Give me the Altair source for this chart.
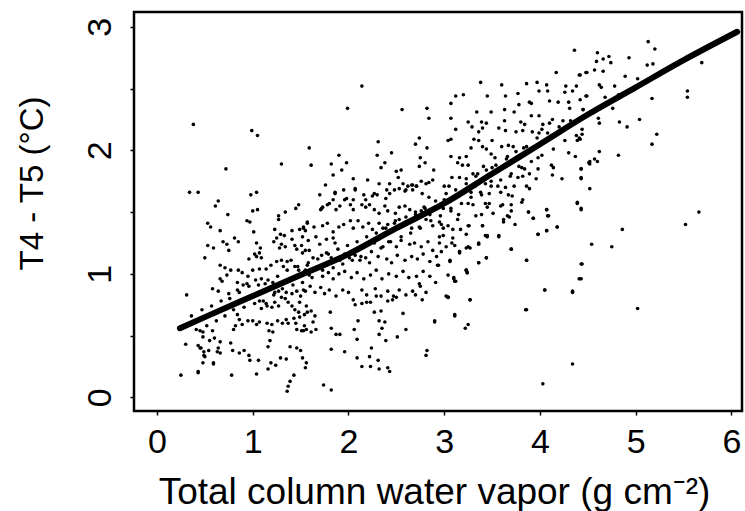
import altair as alt
import pandas as pd

# fitted curve
curve_x = [0.24, 0.5, 1.0, 1.5, 2.0, 2.5, 3.0, 3.5, 4.0, 4.5, 5.0, 5.5, 6.06]
curve_y = [0.56, 0.65, 0.82, 0.99, 1.16, 1.37, 1.57, 1.81, 2.05, 2.29, 2.51, 2.73, 2.96]

# scatter points (x = water vapor, y = T4-T5)
pts_right = [(5.13,2.88),(5.20,2.82),(4.60,2.79),(4.66,2.74),(4.72,2.76),(4.74,2.71),(4.59,2.72),(4.93,2.75),(5.12,2.69),(5.18,2.70),(5.69,2.71),(4.42,2.61),(4.49,2.63),(4.57,2.65),(4.66,2.64),(4.89,2.60),(5.02,2.58),(4.62,2.53),(4.64,2.51),(4.78,2.52),(4.48,2.44),(4.42,2.41),(4.68,2.43),(4.82,2.45),(5.17,2.42),(5.54,2.48),(5.54,2.43),(4.45,2.33),(4.76,2.34),(4.61,2.26),(4.62,2.22),(4.83,2.23),(4.91,2.19),(5.04,2.25),(5.22,2.13),(5.17,2.05),(4.44,2.17),(4.44,2.13),(4.42,2.09),(4.62,1.99),(4.57,1.93),(4.60,1.91),(4.52,1.91),(4.52,1.89),(4.82,1.96),(4.43,1.85),(4.43,1.77),(4.52,1.69),(4.43,1.52),(4.86,1.36),(4.54,1.24),(4.75,1.22),(4.43,1.08),(5.66,1.50),(5.52,1.40)]
pts_lowright = [(4.41,0.96),(4.34,0.85),(5.02,0.72),(4.05,0.87),(3.85,0.71),(4.34,0.27),(4.03,0.11),(3.86,1.11),(3.70,1.20),(4.18,1.38),(4.07,1.35),(3.98,1.32),(4.07,1.52),(4.09,1.47),(4.39,1.57),(3.93,1.45),(3.88,1.50),(3.81,1.58),(3.57,1.31),(3.44,1.13),(3.36,1.09),(3.27,0.79),(3.22,0.56),(3.25,0.59),(3.11,0.66),(3.04,0.81),(2.90,0.61),(3.10,0.96),(3.11,0.94),(3.23,1.03),(3.24,1.01),(2.94,1.07),(3.06,1.10),(3.36,1.24),(3.40,1.39),(3.45,1.31),(3.16,1.18),(3.16,1.17),(3.25,1.22),(3.26,1.39),(3.08,1.25),(3.62,1.42),(3.66,1.47),(3.74,1.40),(3.70,1.51),(3.59,1.55),(3.47,1.57)]
pts_mid = [(4.36,2.81),(4.17,2.63),(4.41,2.61),(4.48,2.63),(3.38,2.55),(3.60,2.53),(3.86,2.54),(3.97,2.55),(4.07,2.53),(4.08,2.48),(3.99,2.48),(4.27,2.52),(4.38,2.52),(4.26,2.47),(4.34,2.48),(4.49,2.44),(3.12,2.44),(3.20,2.45),(3.45,2.44),(3.64,2.44),(3.77,2.46),(3.89,2.39),(3.91,2.38),(3.78,2.37),(4.10,2.40),(4.19,2.39),(4.30,2.39),(3.07,2.38),(4.31,2.34),(4.45,2.33),(3.34,2.31),(3.49,2.31),(3.63,2.33),(3.73,2.31),(3.91,2.28),(3.99,2.28),(4.13,2.25),(4.10,2.22),(4.24,2.24),(3.07,2.26),(3.25,2.23),(3.29,2.19),(3.39,2.23),(3.44,2.22),(3.63,2.24),(3.80,2.23),(3.84,2.21),(4.03,2.21),(3.12,2.17),(3.40,2.18),(3.36,2.15),(3.57,2.18),(3.64,2.16),(3.75,2.15),(3.82,2.16),(3.92,2.15),(3.99,2.14),(4.02,2.17),(3.04,2.08),(3.07,2.09),(3.31,2.09),(3.36,2.08),(3.50,2.08),(3.60,2.03),(3.67,2.04),(3.72,2.03),(3.83,2.02),(4.39,2.08),(4.41,2.10),(3.28,2.02),(3.40,2.03),(3.44,2.01),(3.07,1.95),(3.16,1.94),(3.23,1.95),(3.49,1.97),(3.53,1.94),(3.66,1.95),(3.98,1.94),(4.30,1.98),(4.37,1.95),(3.14,1.90),(3.19,1.88),(3.25,1.88),(3.41,1.87),(3.50,1.86),(3.78,1.87),(3.84,1.85),(3.98,1.85),(4.12,1.88),(4.14,1.86),(4.51,1.90),(3.08,1.78),(3.16,1.78),(3.23,1.77),(3.30,1.81),(3.35,1.81),(3.69,1.79),(3.77,1.78),(3.82,1.79),(3.89,1.81),(3.96,1.77),(4.13,1.80),(4.23,1.77),(4.43,1.85),(4.43,1.78),(3.00,1.71),(3.05,1.71),(3.32,1.71),(3.43,1.73),(3.49,1.75),(3.56,1.71),(3.64,1.70),(3.73,1.71),(3.86,1.71),(3.89,1.69),(3.28,1.66),(3.39,1.64),(3.47,1.65),(3.59,1.66),(3.67,1.64),(3.71,1.63),(3.82,1.60),(3.25,1.57),(3.30,1.56),(3.43,1.57),(3.45,1.54),(3.61,1.56),(3.70,1.56),(4.39,1.58),(4.43,1.53),(2.99,1.53),(3.07,1.53),(3.15,1.48),(3.14,1.44),(3.33,1.47),(3.39,1.48),(3.51,1.49),(3.62,1.44),(3.68,1.46),(3.88,1.50),(3.93,1.45),(4.07,1.52),(4.08,1.47),(4.18,1.38),(3.98,1.32),(4.07,1.35),(2.97,1.40),(3.04,1.39),(3.09,1.36),(3.17,1.36),(3.25,1.39),(3.40,1.39),(2.95,1.30),(2.99,1.31),(3.09,1.29),(3.23,1.32),(3.43,1.31),(3.45,1.30),(3.57,1.30),(3.70,1.20),(3.11,1.23),(3.16,1.18),(3.23,1.21),(3.27,1.21),(3.36,1.25),(3.06,1.11),(3.44,1.13),(3.36,1.09),(3.86,1.11),(3.23,1.03),(3.24,1.01),(3.10,0.97),(3.12,0.94),(4.05,0.87),(4.34,0.86),(4.43,0.96),(4.44,1.08),(3.04,0.81),(3.27,0.79),(3.86,0.71),(3.11,0.67)]
pts_topleft = [(0.38,2.21),(0.99,2.16),(1.05,2.12),(0.72,1.85),(0.34,1.66),(0.43,1.66),(0.64,1.59),(0.61,1.55),(0.98,1.64),(1.04,1.66),(1.30,1.89),(1.59,2.02),(1.61,1.88),(1.99,2.34),(2.14,2.52),(2.56,2.33),(2.82,2.34),(2.84,2.26),(2.31,2.07),(2.30,1.96),(2.38,1.90),(2.34,1.86),(2.45,1.98),(2.74,2.10),(2.70,2.05),(2.82,2.02),(2.75,1.94),(2.80,1.90),(2.74,1.87),(1.90,1.96),(1.82,1.89),(1.98,1.90),(1.93,1.84),(1.84,1.80),(1.76,1.72),(1.86,1.65),(2.05,1.77),(2.07,1.68),(1.98,1.61),(2.20,1.76),(2.18,1.60),(2.50,1.83),(2.55,1.84),(2.52,1.78),(2.57,1.73),(2.27,1.65),(2.39,1.61),(2.43,1.73),(2.60,1.68),(2.67,1.68),(2.71,1.71),(2.66,1.72),(2.77,1.65),(2.84,1.62),(2.89,1.84),(2.88,1.76),(1.80,1.57),(1.71,1.52),(1.48,1.56),(1.45,1.53),(2.05,1.60)]
pts_left = [(0.74,1.48),(1.00,1.51),(1.05,1.52),(1.34,1.50),(1.27,1.47),(1.27,1.44),(0.94,1.43),(0.97,1.42),(0.53,1.41),(0.56,1.38),(0.66,1.35),(1.01,1.34),(1.23,1.36),(1.29,1.32),(1.33,1.31),(1.41,1.35),(1.49,1.36),(1.53,1.38),(1.55,1.35),(1.57,1.42),(0.69,1.26),(0.73,1.24),(0.75,1.19),(0.81,1.29),(0.85,1.26),(1.04,1.25),(1.08,1.21),(1.07,1.17),(1.02,1.16),(0.53,1.23),(0.59,1.21),(1.22,1.26),(1.25,1.29),(1.30,1.24),(1.28,1.21),(1.34,1.22),(1.41,1.28),(1.44,1.23),(1.46,1.20),(1.51,1.23),(1.55,1.19),(0.50,1.13),(0.96,1.12),(1.04,1.14),(1.09,1.13),(0.66,1.07),(0.71,1.05),(0.77,1.03),(0.73,0.99),(0.85,1.03),(0.89,1.01),(1.00,1.03),(1.07,1.04),(1.14,1.04),(1.19,1.07),(1.25,1.10),(1.30,1.11),(1.32,1.06),(1.36,1.10),(1.40,1.11),(1.44,1.06),(1.48,1.03),(1.55,1.03),(1.57,1.07),(0.58,0.88),(0.64,0.86),(0.66,0.96),(0.68,0.94),(0.84,0.93),(0.90,0.91),(0.94,0.92),(0.95,0.98),(1.03,0.95),(1.09,0.96),(0.84,0.87),(0.75,0.84),(1.13,0.92),(1.18,0.88),(1.21,0.93),(1.23,0.85),(1.27,0.86),(1.30,0.81),(1.35,0.85),(1.41,0.84),(1.46,0.86),(1.50,0.82),(1.55,0.86),(1.07,0.78),(1.14,0.76),(1.09,0.72),(1.15,0.74),(1.23,0.77),(1.20,0.73),(1.27,0.74),(1.34,0.80),(1.37,0.77),(1.41,0.74),(1.44,0.71),(1.48,0.69),(1.49,0.65),(1.54,0.67),(1.57,0.69),(0.84,0.67),(0.86,0.63),(0.89,0.59),(0.82,0.58),(0.80,0.55),(0.95,0.62),(1.00,0.62),(1.04,0.59),(1.07,0.61),(1.15,0.60),(1.20,0.59),(1.17,0.54),(1.21,0.53),(1.26,0.62),(1.31,0.60),(1.35,0.63),(1.37,0.60),(1.43,0.64),(1.45,0.60),(1.46,0.55),(1.53,0.54),(1.56,0.55),(0.31,0.83),(0.30,0.43),(0.45,0.54),(0.48,0.53),(0.48,0.49),(0.58,0.54),(0.60,0.48),(0.55,0.46),(0.66,0.45),(0.64,0.40),(0.63,0.37),(0.46,0.40),(0.49,0.37),(0.54,0.38),(0.50,0.33),(0.59,0.28),(0.66,0.36),(0.77,0.44),(0.79,0.38),(0.86,0.36),(0.91,0.38),(0.96,0.34),(0.97,0.30),(1.06,0.30),(1.18,0.46),(1.16,0.41),(1.19,0.28),(1.16,0.23),(1.24,0.26),(1.29,0.32),(1.35,0.31),(1.39,0.41),(1.46,0.40),(1.50,0.38),(1.52,0.32),(1.56,0.28),(1.55,0.24),(1.43,0.18),(1.39,0.13),(1.37,0.09),(1.36,0.05),(0.25,0.18),(0.43,0.21),(0.78,0.18),(1.04,0.19),(0.43,0.42),(0.45,0.40),(0.49,0.34),(0.48,0.28),(0.59,0.27),(0.43,0.20)]
pts_center = [(2.32,1.73),(2.48,1.68),(2.53,1.69),(2.59,1.67),(2.62,1.71),(2.67,1.72),(2.71,1.71),(2.76,1.75),(2.81,1.73),(2.84,1.74),(1.95,1.68),(2.07,1.69),(2.16,1.64),(2.25,1.63),(2.30,1.64),(2.40,1.68),(2.43,1.65),(1.70,1.64),(1.86,1.66),(1.96,1.60),(1.78,1.56),(1.72,1.53),(1.73,1.54),(1.84,1.60),(1.87,1.52),(1.91,1.55),(2.02,1.56),(2.05,1.52),(2.14,1.56),(2.18,1.54),(2.22,1.56),(2.27,1.52),(2.32,1.49),(2.38,1.55),(2.41,1.51),(2.49,1.49),(2.53,1.54),(2.59,1.55),(2.64,1.52),(2.70,1.48),(2.76,1.51),(2.79,1.54),(2.85,1.48),(2.89,1.52),(2.97,1.56),(3.00,1.60),
              (1.53,1.37),(1.57,1.41),(1.64,1.38),(1.73,1.39),(1.78,1.41),(1.84,1.34),(1.90,1.38),(1.95,1.40),(2.02,1.43),(2.05,1.37),(2.10,1.43),(2.15,1.38),(2.21,1.41),(2.25,1.36),(2.32,1.41),(2.36,1.37),(2.41,1.40),(2.48,1.41),(2.53,1.44),(2.60,1.42),(2.66,1.37),(2.74,1.38),(2.81,1.44),(2.88,1.39),(2.95,1.42),(2.99,1.37),
              (1.52,1.30),(1.58,1.27),(1.66,1.30),(1.70,1.24),(1.77,1.28),(1.84,1.29),(1.86,1.25),(2.27,1.25),(2.31,1.28),(2.36,1.22),(2.42,1.26),(2.50,1.22),(2.55,1.27),(2.64,1.24),(2.69,1.25),(2.76,1.22),(2.83,1.26),(2.88,1.19),(2.95,1.25),(3.02,1.22),
              (1.52,1.17),(1.59,1.19),(1.63,1.13),(1.72,1.15),(1.77,1.17),(1.82,1.13),(1.91,1.11),(1.96,1.16),(2.01,1.13),(2.07,1.15),(2.12,1.11),(2.18,1.13),(2.22,1.09),(2.31,1.14),(2.40,1.12),(2.45,1.09),(2.51,1.15),(2.59,1.11),(2.66,1.14),(2.72,1.12),(2.78,1.16),(2.85,1.10),(2.92,1.14),(2.97,1.18),
              (1.54,1.02),(1.59,0.99),(1.66,1.04),(1.73,0.98),(1.79,1.01),(1.84,0.96),(1.90,1.00),(1.96,1.02),(2.03,0.97),(2.09,1.01),(2.16,0.96),(2.23,0.99),(2.29,1.03),(2.35,0.96),(2.42,1.00),(2.50,0.98),(2.57,1.02),(2.63,0.97),(2.71,0.98),(2.78,1.02),(2.85,0.98),
              (1.53,0.87),(1.60,0.90),(1.65,0.85),(1.71,0.89),(1.75,0.84),(1.80,0.87),(1.87,0.82),(1.94,0.87),(2.00,0.85),(2.05,0.79),(2.14,0.87),(2.19,0.83),(2.28,0.88),(2.34,0.82),(2.41,0.86),(2.47,0.82),(2.53,0.87),(2.60,0.83),(2.67,0.86),(2.75,0.90),(2.81,0.85),(2.91,0.93),(3.02,0.82),
              (1.49,0.77),(1.56,0.74),(1.61,0.70),(1.65,0.66),(1.63,0.61),(1.54,0.58),(1.51,0.54),(1.61,0.53),(1.66,0.55),(1.81,0.69),(1.82,0.56),(1.87,0.51),(1.91,0.51),(2.07,0.75),(2.14,0.76),(2.19,0.77),(2.23,0.77),(2.29,0.82),(2.10,0.62),(2.06,0.55),(2.09,0.47),(2.27,0.69),(2.34,0.70),(2.32,0.62),(2.38,0.61),(2.35,0.56),(2.41,0.78),(2.46,0.79),(2.50,0.81),(2.57,0.68),(2.60,0.55),(2.51,0.49),(2.39,0.46),(2.32,0.51),(2.24,0.40),(2.22,0.33),(2.31,0.30),(2.32,0.23),(2.14,0.25),(2.23,0.25),(2.41,0.24),(2.43,0.21),(2.09,0.32),(1.82,0.39),(1.96,0.37),(1.74,0.10),(1.82,0.06),(2.74,0.92),(2.77,0.79),(2.70,0.83),(2.82,0.38),(2.81,0.34),(2.90,0.62),(2.93,1.07),(3.04,0.81),(3.04,0.99)]
# dense band of points hugging the fitted curve
pts_band = [(0.36,0.66),(0.41,0.55),(0.47,0.71),(0.52,0.58),(0.57,0.74),(0.62,0.62),(0.67,0.78),(0.71,0.66),(0.76,0.80),(0.80,0.71),(0.86,0.85),(0.91,0.73),(0.96,0.90),(1.02,0.76),(1.06,0.91),(1.11,0.78),(1.16,0.95),(1.22,0.83),(1.26,0.98),(1.31,0.88),(1.36,1.03),(1.42,0.91),(1.47,1.06),(1.52,0.93),(1.58,1.09),(1.62,0.97),(1.68,1.12),(1.73,1.03),(1.79,1.16),(1.84,1.05),(1.89,1.20),(1.94,1.08),(1.99,1.23),(2.04,1.11),(2.09,1.26),(2.13,1.14),(2.19,1.30),(2.24,1.18),(2.29,1.33),(2.34,1.21),(2.39,1.37),(2.44,1.26),(2.49,1.43),(2.55,1.30),(2.60,1.46),(2.65,1.33),(2.70,1.50),(2.75,1.37),(2.80,1.53),(2.86,1.43),(2.91,1.59),(2.96,1.47),(3.02,1.65),(3.07,1.51),(3.12,1.68),(3.18,1.57),(3.23,1.73),(3.28,1.62),(3.33,1.79),(3.38,1.66),(3.44,1.84),(3.49,1.71),(3.54,1.88),(3.59,1.76),(3.65,1.93),(3.70,1.81),(3.75,1.99),(3.81,1.86),(3.86,2.03),(3.91,1.91),(3.97,2.10),(4.02,1.96),(4.08,2.14),(4.14,2.01),(4.20,2.19),(4.26,2.08),(4.32,2.24),(4.38,2.12)]

points = pd.DataFrame(pts_right + pts_lowright + pts_mid + pts_topleft + pts_left + pts_center + pts_band,
                      columns=["vapor", "dT"])
curve = pd.DataFrame({"vapor": curve_x, "dT": curve_y})

FONT = "Liberation Sans"
xscale = alt.Scale(domain=[-0.24, 6.11], nice=False, zero=False)
yscale = alt.Scale(domain=[-0.11, 3.12], nice=False, zero=False)

xaxis = alt.Axis(values=[0, 1, 2, 3, 4, 5, 6], format="d",
                 title="Total column water vapor  (g cm\u207b\u00b2)",
                 grid=False, domain=False, tickSize=4, tickColor="black", tickWidth=1.5,
                 labelFont=FONT, labelFontSize=34, labelColor="black", labelPadding=10,
                 labelFlush=False, labelOverlap=False,
                 titleFont=FONT, titleFontSize=37, titleFontWeight="normal", titleColor="black",
                 titleBaseline="alphabetic", titleX=300, titleY=92)
yaxis = alt.Axis(values=[0, 0.5, 1, 1.5, 2, 2.5, 3],
                 labelExpr="datum.value % 1 == 0 ? format(datum.value, 'd') : ''",
                 title="T4 - T5  (\u00b0C)", grid=False, domain=False, tickSize=4,
                 tickColor="black", tickWidth=1.5,
                 labelFont=FONT, labelFontSize=34, labelColor="black", labelAngle=270,
                 labelAlign="center", labelBaseline="alphabetic", labelPadding=20,
                 labelFlush=False, labelOverlap=False,
                 titleFont=FONT, titleFontSize=33, titleFontWeight="normal", titleColor="black",
                 titleAngle=270, titleAlign="center", titleBaseline="alphabetic",
                 titleX=-92, titleY=171)

dots = alt.Chart(points).mark_circle(size=13, color="black", opacity=1).encode(
    x=alt.X("vapor:Q", scale=xscale, axis=xaxis),
    y=alt.Y("dT:Q", scale=yscale, axis=yaxis),
)
line = alt.Chart(curve).mark_line(color="black", strokeWidth=6, strokeCap="round",
                                  interpolate="monotone").encode(
    x=alt.X("vapor:Q", scale=xscale),
    y=alt.Y("dT:Q", scale=yscale),
)

chart = (dots + line).properties(
    width=608, height=399, autosize="none",
    padding={"left": 134, "top": 12, "right": 3, "bottom": 100},
    background="white",
).configure_view(stroke="black", strokeWidth=2.5)

chart.save("out.html", embed_options={"renderer": "svg", "actions": False})
